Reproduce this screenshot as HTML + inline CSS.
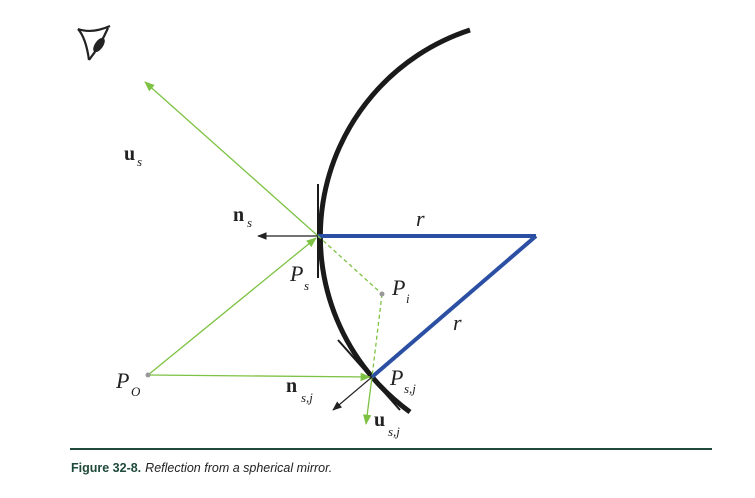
<!DOCTYPE html>
<html><head><meta charset="utf-8"><style>
body{margin:0;background:#fff;width:755px;height:493px;overflow:hidden}
.l{font-family:"Liberation Serif",serif;font-style:italic;font-size:22px;fill:#222}
.b{font-family:"Liberation Serif",serif;font-weight:bold;font-size:20px;fill:#222}
.s{font-family:"Liberation Serif",serif;font-style:italic;font-size:13px;fill:#222}
</style></head><body>
<svg width="755" height="493">
<defs>
<marker id="ag" viewBox="0 0 10 10" refX="9" refY="5" markerWidth="8" markerHeight="8" orient="auto-start-reverse"><path d="M0,1L10,5L0,9z" fill="#7dc242"/></marker>
<marker id="ak" viewBox="0 0 10 10" refX="9" refY="5" markerWidth="8" markerHeight="8" orient="auto-start-reverse"><path d="M0,1L10,5L0,9z" fill="#222"/></marker>
</defs>
<g stroke="#222" fill="none" stroke-width="2.2">
<path d="M78,29 Q92,34 110,26"/><path d="M78,29 Q86,38 89,60"/><path d="M108,28 Q100,46 89,60"/>
<ellipse cx="99" cy="45" rx="3" ry="7" transform="rotate(35 99 45)" fill="#222"/>
</g>
<path d="M470,30 A217,217 0 0 0 410,412" stroke="#1a1a1a" stroke-width="5" fill="none"/>
<line x1="318" y1="184" x2="318" y2="278" stroke="#1a1a1a" stroke-width="2"/>
<line x1="338" y1="340" x2="400" y2="410" stroke="#1a1a1a" stroke-width="2"/>
<line x1="318" y1="236" x2="536" y2="236" stroke="#2a4fa3" stroke-width="4"/>
<line x1="536" y1="236" x2="372" y2="377" stroke="#2a4fa3" stroke-width="4"/>
<g stroke="#7dc242" stroke-width="1.3" fill="none">
<line x1="148" y1="375" x2="316" y2="238" marker-end="url(#ag)"/>
<line x1="318" y1="236" x2="145" y2="82" marker-end="url(#ag)"/>
<line x1="148" y1="375" x2="370" y2="377" marker-end="url(#ag)"/>
<line x1="372" y1="377" x2="366" y2="424" marker-end="url(#ag)"/>
<line x1="318" y1="236" x2="382" y2="294" stroke-dasharray="4,3"/>
<line x1="382" y1="294" x2="372" y2="377" stroke-dasharray="4,3"/>
</g>
<line x1="318" y1="236" x2="258" y2="236" stroke="#222" stroke-width="1.2" marker-end="url(#ak)"/>
<line x1="372" y1="377" x2="333" y2="410" stroke="#222" stroke-width="1.2" marker-end="url(#ak)"/>
<circle cx="382" cy="294" r="2.5" fill="#999"/>
<circle cx="148" cy="375" r="2.5" fill="#999"/>
<text class="b" x="124" y="160">u</text><text class="s" x="137" y="166">s</text>
<text class="b" x="233" y="221">n</text><text class="s" x="247" y="227">s</text>
<text class="l" x="416" y="226">r</text>
<text class="l" x="453" y="330">r</text>
<text class="l" x="290" y="281">P</text><text class="s" x="304" y="290">s</text>
<text class="l" x="392" y="295">P</text><text class="s" x="406" y="303">i</text>
<text class="l" x="116" y="388">P</text><text class="s" x="131" y="396">O</text>
<text class="l" x="390" y="385">P</text><text class="s" x="404" y="393">s,j</text>
<text class="b" x="286" y="392">n</text><text class="s" x="301" y="402">s,j</text>
<text class="b" x="374" y="426">u</text><text class="s" x="388" y="436">s,j</text>
<line x1="70" y1="449" x2="712" y2="449" stroke="#1f4a3a" stroke-width="2"/>
<text x="71" y="472" font-family="Liberation Sans,sans-serif" font-size="12.5" fill="#222"><tspan font-weight="bold" fill="#1f4a3a">Figure 32-8.</tspan><tspan font-style="italic" dx="4">Reflection from a spherical mirror.</tspan></text>
</svg>
</body></html>
